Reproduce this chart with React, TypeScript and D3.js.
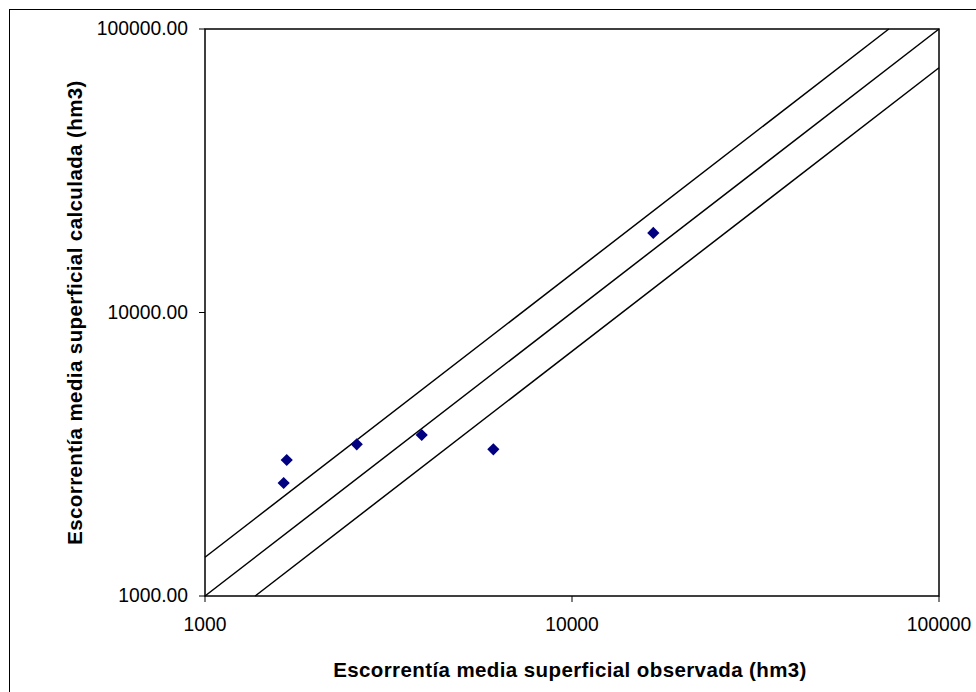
import React from "react";
import * as d3 from "d3";

const observed = [1638, 1670, 2591, 3895, 6105, 16655];
const calculated = [2504, 3018, 3428, 3698, 3292, 19078];
const xTicks = [1000, 10000, 100000];
const yTicks = [1000, 10000, 100000];
const bandFactor = 1.37;

const W = 976;
const H = 692;
const M = { left: 205, top: 29, right: 939, bottom: 596 };

export default function App() {
  const x = d3.scaleLog().domain([1000, 100000]).range([M.left, M.right]);
  const y = d3.scaleLog().domain([1000, 100000]).range([M.bottom, M.top]);
  const line = d3
    .line<[number, number]>()
    .x((d) => x(d[0]))
    .y((d) => y(d[1]));
  const lines: [number, number][][] = [
    [
      [1000, 1000 * bandFactor],
      [100000 / bandFactor, 100000],
    ],
    [
      [1000, 1000],
      [100000, 100000],
    ],
    [
      [1000 * bandFactor, 1000],
      [100000, 100000 / bandFactor],
    ],
  ];
  const font = "Arial, 'Liberation Sans', sans-serif";
  const pts = observed.map((o, i) => [o, calculated[i]] as [number, number]);
  return (
    <svg
      width={W}
      height={H}
      style={{ position: "absolute", left: 0, top: 0, background: "#fff" }}
    >
      <rect x={0} y={0} width={W} height={H} fill="#fff" />
      <rect x={9.5} y={9.5} width={W + 20} height={H + 20} fill="none" stroke="#000" strokeWidth={1} />
      <rect
        x={M.left}
        y={M.top}
        width={M.right - M.left}
        height={M.bottom - M.top}
        fill="none"
        stroke="#000"
        strokeWidth={1.5}
      />
      {lines.map((l, i) => (
        <path key={i} d={line(l) || ""} fill="none" stroke="#000" strokeWidth={1.5} />
      ))}
      {yTicks.map((t) => (
        <g key={"y" + t}>
          <line x1={M.left - 6} x2={M.left} y1={y(t)} y2={y(t)} stroke="#000" strokeWidth={1} />
          <text
            x={188}
            y={y(t)}
            dy="0.05em"
            textAnchor="end"
            dominantBaseline="middle"
            fontFamily={font}
            fontSize={19.3}
            fill="#000"
          >
            {d3.format(".2f")(t)}
          </text>
        </g>
      ))}
      {xTicks.map((t) => (
        <g key={"x" + t}>
          <line x1={x(t)} x2={x(t)} y1={M.bottom} y2={M.bottom + 6} stroke="#000" strokeWidth={1} />
          <text
            x={x(t)}
            y={631}
            textAnchor="middle"
            fontFamily={font}
            fontSize={19.3}
            fill="#000"
          >
            {d3.format("d")(t)}
          </text>
        </g>
      ))}
      {pts.map((p, i) => (
        <path
          key={i}
          d={d3.symbol().type(d3.symbolDiamond2).size(95)() || ""}
          transform={`translate(${x(p[0])},${y(p[1])})`}
          fill="#000080"
        />
      ))}
      <text
        x={570}
        y={677}
        textAnchor="middle"
        fontFamily={font}
        fontSize={20.5}
        letterSpacing={0.4}
        fontWeight="bold"
        fill="#000"
      >
        Escorrentía media superficial observada (hm3)
      </text>
      <text
        transform={`translate(82,${(M.top + M.bottom) / 2}) rotate(-90)`}
        textAnchor="middle"
        fontFamily={font}
        fontSize={20.5}
        letterSpacing={0.4}
        fontWeight="bold"
        fill="#000"
      >
        Escorrentía media superficial calculada (hm3)
      </text>
    </svg>
  );
}
